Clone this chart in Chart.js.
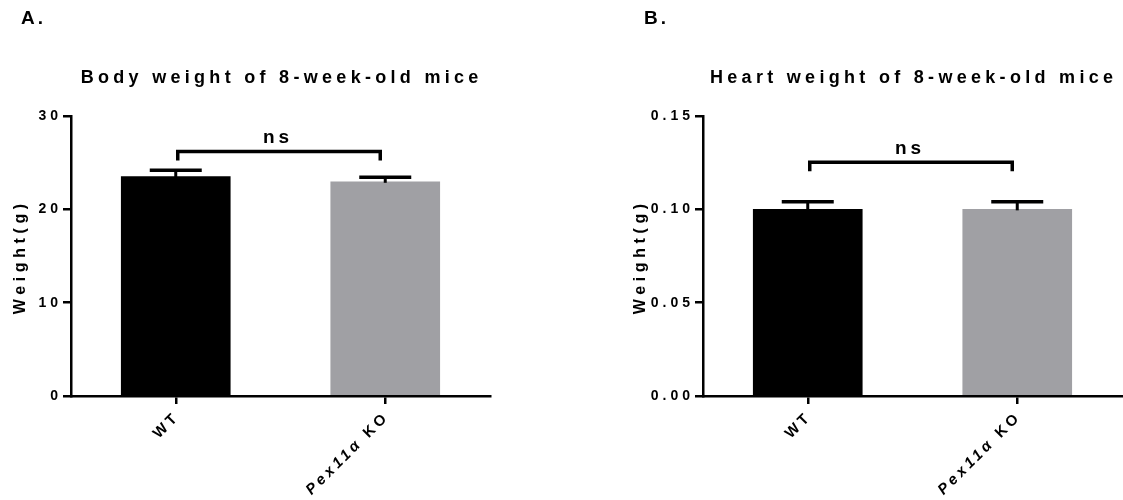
<!DOCTYPE html>
<html>
<head>
<meta charset="utf-8">
<script src="https://cdn.jsdelivr.net/npm/chart.js@4.4.1/dist/chart.umd.min.js"></script>
<style>
  html, body { margin: 0; padding: 0; background: #fff; }
  body { width: 1123px; height: 500px; position: relative; overflow: hidden; }
  canvas { position: absolute; top: 0; }
  #cA { left: 0; }
  #cB { left: 632px; }
</style>
</head>
<body>
<canvas id="cA" width="561" height="500"></canvas>
<canvas id="cB" width="491" height="500"></canvas>
<script>
// ---- data ----
const categories = ['WT', 'Pex11α KO'];
const labelItalicPart = ['', 'Pex11α'];
const labelNormalPart = ['WT', ' KO'];
const barColors = ['#000000', '#a0a0a4'];

const bodyMeans = [23.5, 22.95];
const bodyErr = [0.7, 0.48];
const bodyTicks = [0, 10, 20, 30];
const bodyBracket = [26.2];

const heartMeans = [0.1, 0.1];
const heartErr = [0.0041, 0.0041];
const heartTicks = [0.00, 0.05, 0.10, 0.15];
const heartBracket = [0.1252];

const FONT = '"Liberation Sans", Arial, Helvetica, sans-serif';

function spacedText(ctx, text, x, y, spacing, align) {
  ctx.letterSpacing = spacing + 'px';
  ctx.textAlign = align;
  let dx = 0;
  if (align === 'center') dx = spacing / 2;
  if (align === 'right') dx = spacing;
  ctx.fillText(text, x + dx, y);
}

function makeChart(id, cfg) {
  const ctx = document.getElementById(id).getContext('2d');
  const extras = {
    id: 'extras_' + id,
    beforeDraw(chart) {
      chart.ctx.letterSpacing = '4px';
    },
    afterDatasetsDraw(chart) {
      const c = chart.ctx;
      const xs = chart.scales.x, ys = chart.scales.y;
      c.save();
      c.strokeStyle = '#000';
      c.lineCap = 'butt';
      // error bars (upper only)
      cfg.means.forEach((m, i) => {
        const cx = xs.getPixelForValue(i);
        const yTop = ys.getPixelForValue(m + cfg.err[i]);
        const yBar = ys.getPixelForValue(m);
        c.lineWidth = 3;
        c.beginPath();
        c.moveTo(cx, yBar + 1);
        c.lineTo(cx, yTop);
        c.stroke();
        c.lineWidth = 3.5;
        c.beginPath();
        c.moveTo(cx - 26, yTop);
        c.lineTo(cx + 26, yTop);
        c.stroke();
      });
      // significance bracket
      const bx1 = xs.getPixelForValue(0) + 2;
      const bx2 = xs.getPixelForValue(1) - 5;
      const by = ys.getPixelForValue(cfg.bracket[0]);
      c.lineWidth = 3.5;
      c.lineJoin = 'miter';
      c.beginPath();
      c.moveTo(bx1, by + 9);
      c.lineTo(bx1, by);
      c.lineTo(bx2, by);
      c.lineTo(bx2, by + 9);
      c.stroke();
      c.fillStyle = '#000';
      c.font = 'bold 19px ' + FONT;
      c.textBaseline = 'alphabetic';
      spacedText(c, 'ns', (bx1 + bx2) / 2 - 3, by - 8, 4, 'center');
      c.restore();
    },
    afterDraw(chart) {
      const c = chart.ctx;
      const xs = chart.scales.x;
      const area = chart.chartArea;
      c.save();
      c.fillStyle = '#000';
      c.textBaseline = 'alphabetic';
      // panel letter
      c.font = 'bold 19px ' + FONT;
      spacedText(c, cfg.panel, cfg.panelX, 24, 3, 'left');
      // title
      c.font = 'bold 18px ' + FONT;
      spacedText(c, cfg.title, (area.left + area.right) / 2 - 1, 83, 4.3, 'center');
      // y title
      c.save();
      c.translate(cfg.yTitleX, (area.top + area.bottom) / 2 + 3);
      c.rotate(-Math.PI / 2);
      c.font = 'bold 16px ' + FONT;
      c.textBaseline = 'middle';
      spacedText(c, 'Weight(g)', 0, 0, 4.6, 'center');
      c.restore();
      // x tick labels, rotated 45 degrees
      categories.forEach((cat, i) => {
        const tx = xs.getPixelForValue(i) - 1;
        const ty = area.bottom + 21;
        c.save();
        c.translate(tx, ty);
        c.rotate(-Math.PI / 4);
        c.textBaseline = 'middle';
        c.textAlign = 'left';
        const sp = 3.6;
        c.letterSpacing = sp + 'px';
        const fItal = 'italic bold 15px ' + FONT;
        const fNorm = 'bold 15px ' + FONT;
        c.font = fItal;
        const wI = labelItalicPart[i] ? c.measureText(labelItalicPart[i]).width : 0;
        c.font = fNorm;
        const wN = c.measureText(labelNormalPart[i]).width;
        let x0 = -(wI + wN - sp);
        if (labelItalicPart[i]) {
          c.font = fItal;
          c.fillText(labelItalicPart[i], x0, 0);
          x0 += wI;
        }
        c.font = fNorm;
        c.fillText(labelNormalPart[i], x0, 0);
        c.restore();
      });
      c.restore();
    }
  };

  return new Chart(ctx, {
    type: 'bar',
    data: {
      labels: categories,
      datasets: [{
        data: cfg.means,
        backgroundColor: barColors,
        borderWidth: 0,
        barThickness: 109
      }]
    },
    options: {
      responsive: false,
      animation: false,
      events: [],
      layout: { padding: { top: 116, right: cfg.padRight, left: 0, bottom: 0 } },
      plugins: { legend: { display: false }, tooltip: { enabled: false }, title: { display: false } },
      scales: {
        x: {
          type: 'category',
          offset: true,
          z: 1,
          grid: { display: true, drawOnChartArea: false, offset: false, color: '#000', lineWidth: 2.5, tickLength: 8, tickWidth: 2.5 },
          border: { display: true, color: '#000', width: 2.5 },
          ticks: { display: false },
          afterFit(s) { s.height = 104; }
        },
        y: {
          min: cfg.ticks[0],
          max: cfg.ticks[cfg.ticks.length - 1],
          z: 1,
          afterBuildTicks(s) { s.ticks = cfg.ticks.map(v => ({ value: v })); },
          grid: { display: true, drawOnChartArea: false, color: '#000', lineWidth: 2.5, tickLength: 8, tickWidth: 2.5 },
          border: { display: true, color: '#000', width: 2.5 },
          ticks: {
            color: '#000',
            padding: 1,
            font: { family: FONT, size: 14, weight: 'bold' },
            callback: (v) => cfg.fmt(v)
          },
          afterFit(s) { s.width = 71; }
        }
      }
    },
    plugins: [extras]
  });
}

makeChart('cA', {
  means: bodyMeans, err: bodyErr, ticks: bodyTicks, bracket: bodyBracket,
  fmt: v => String(v), title: 'Body weight of 8-week-old mice', panel: 'A.', panelX: 21, padRight: 71, yTitleX: 21
});
makeChart('cB', {
  means: heartMeans, err: heartErr, ticks: heartTicks, bracket: heartBracket,
  fmt: v => v.toFixed(2), title: 'Heart weight of 8-week-old mice', panel: 'B.', panelX: 12, padRight: 1, yTitleX: 9
});
</script>
</body>
</html>
